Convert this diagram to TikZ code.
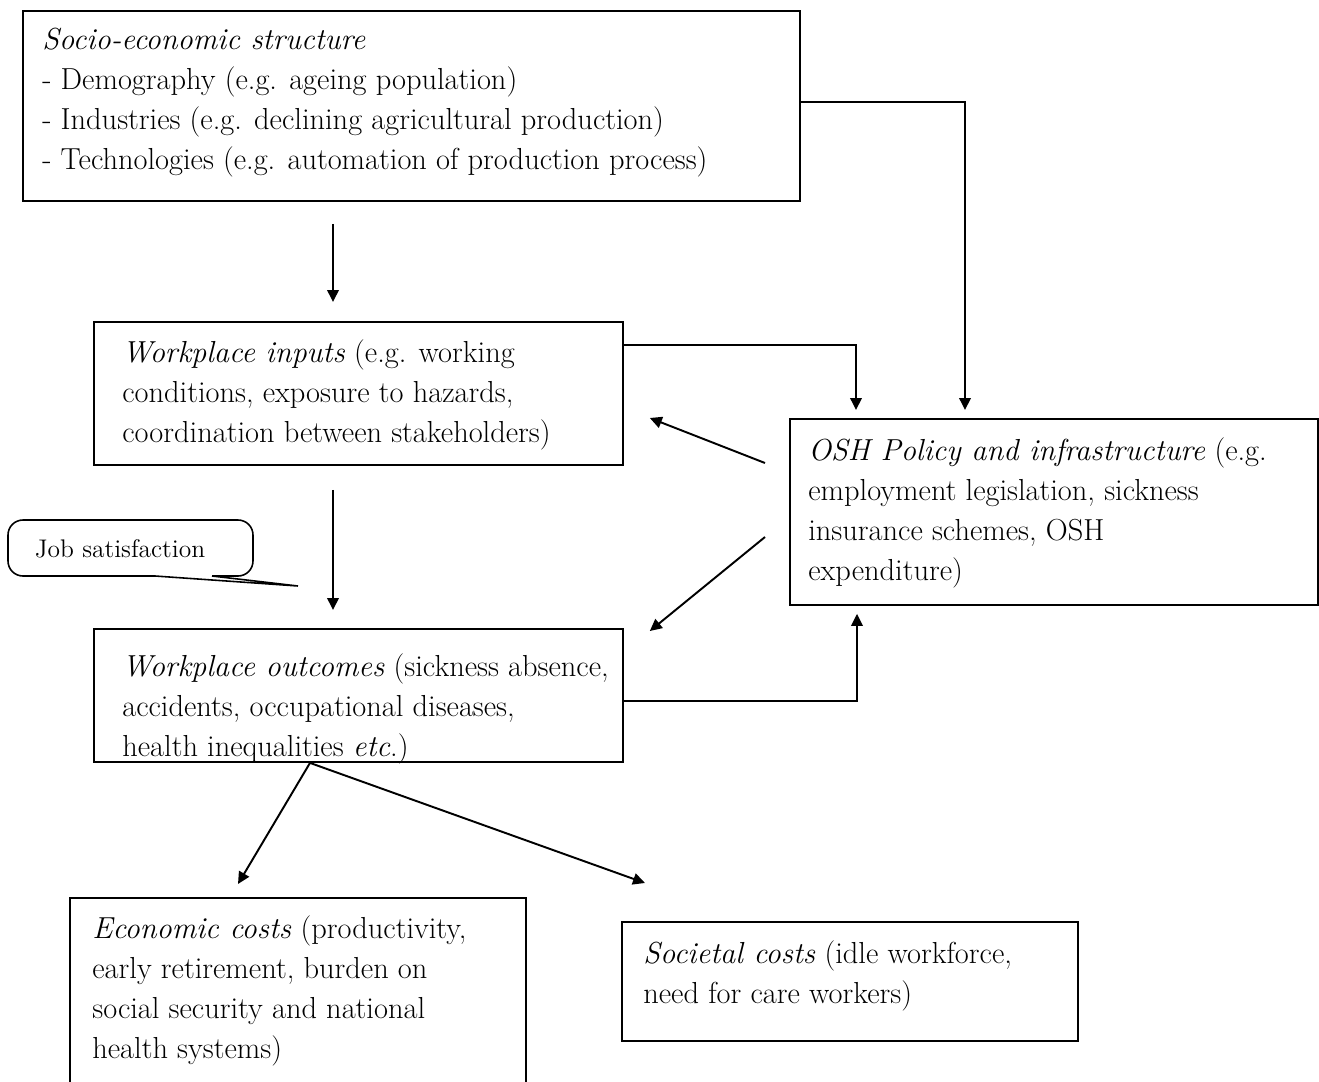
\documentclass[tikz,border=0pt]{standalone}
\usepackage{fontspec}
\usetikzlibrary{arrows.meta}

\begin{document}
\begin{tikzpicture}[
    x=0.02cm, y=-0.02cm,
    % Estilos de las cajas y flechas
    box/.style={draw, line width=1.1pt, anchor=north west, inner sep=0pt},
    txt/.style={anchor=north west, align=left, inner sep=0pt, font=\fontsize{17.3}{22.8}\selectfont},
    arr/.style={line width=1.1pt, -{Triangle[length=2.4mm, width=2.3mm]}},
    link/.style={line width=1.1pt}
]
\useasboundingbox (0,0) rectangle (1319,1082);
\clip (0,0) rectangle (1319,1082);

% ---------------------------------------------------------
% 1. CAJAS (Nodos)
% ---------------------------------------------------------
\node[box, minimum width=15.54cm, minimum height=3.8cm] (socio) at (22,10) {};
\node[txt] (sociotext) at ([shift={(20,18)}]socio.north west)
  {\textit{Socio-economic structure}\\- Demography (e.g. ageing population)\\- Industries (e.g. declining agricultural production)\\- Technologies (e.g. automation of production process)};

\node[box, minimum width=10.58cm, minimum height=2.86cm] (inputs) at (93,321) {};
\node[txt] (inputstext) at ([shift={(29,18)}]inputs.north west)
  {\textit{Workplace inputs} (e.g. working\\conditions, exposure to hazards,\\coordination between stakeholders)};

\node[box, minimum width=10.56cm, minimum height=3.72cm] (osh) at (789,418) {};
\node[txt] (oshtext) at ([shift={(19,19)}]osh.north west)
  {\textit{OSH Policy and infrastructure} (e.g.\\employment legislation, sickness\\insurance schemes, OSH\\expenditure)};

\node[box, minimum width=10.58cm, minimum height=2.66cm] (outcomes) at (93,628) {};
\node[txt] (outcomestext) at ([shift={(29,25)}]outcomes.north west)
  {\textit{Workplace outcomes} (sickness absence,\\accidents, occupational diseases,\\health inequalities \textit{etc}.)};

\node[box, minimum width=9.12cm, minimum height=4.0cm] (economic) at (69,897) {};
\node[txt] (economictext) at ([shift={(23,18)}]economic.north west)
  {\textit{Economic costs} (productivity,\\early retirement, burden on\\social security and national\\health systems)};

\node[box, minimum width=9.12cm, minimum height=2.38cm] (societal) at (621,921) {};
\node[txt] (societaltext) at ([shift={(22,19)}]societal.north west)
  {\textit{Societal costs} (idle workforce,\\need for care workers)};

% Globo de texto
\node[inner sep=0pt, font=\fontsize{14.5}{17}\selectfont] (jobsat) at (120,549) {Job satisfaction};
\coordinate (jobtip) at (298,586);
\draw[line width=0.9pt] (212,576) -- (jobtip) -- (155,576)
  [rounded corners=0.3cm] -- (8,576) -- (8,520) -- (253,520) -- (253,576) [sharp corners] -- (212,576);

% ---------------------------------------------------------
% 2. FLECHAS (Conexiones)
% ---------------------------------------------------------
\draw[arr] ([shift={(311,22)}]socio.south west) -- ([shift={(240,-19)}]inputs.north west);
\draw[arr] ([shift={(0,-4)}]socio.east) -| ([shift={(176,-8)}]osh.north west);
\draw[arr] ([shift={(0,24)}]inputs.north east) -| ([shift={(67,-8)}]osh.north west);
\draw[arr] ([shift={(-24,45)}]osh.north west) -- ([shift={(26,97)}]inputs.north east);
\draw[arr] ([shift={(-24,119)}]osh.north west) -- ([shift={(26,3)}]outcomes.north east);
\draw[arr] ([shift={(240,24)}]inputs.south west) -- ([shift={(240,-18)}]outcomes.north west);
\draw[arr] ([shift={(0,6)}]outcomes.east) -| ([shift={(68,8)}]osh.south west);

% Bifurcación hacia los costes
\coordinate (split) at ([shift={(217,0)}]outcomes.south west);
\draw[arr] (split) -- ([shift={(169,-13)}]economic.north west);
\draw[arr] (split) -- ([shift={(24,-38)}]societal.north west);

\end{tikzpicture}
\end{document}
